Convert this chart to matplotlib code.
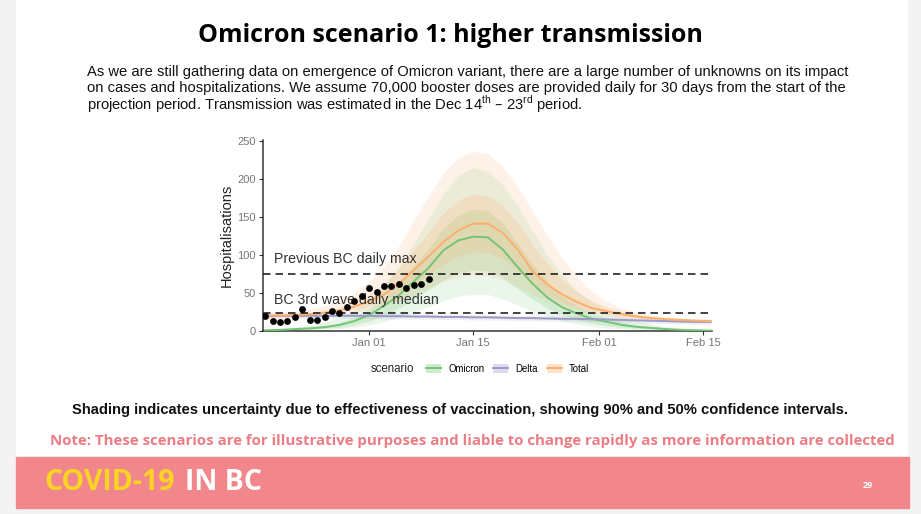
import numpy as np
import pandas as pd
import matplotlib
matplotlib.use("Agg")
import matplotlib.pyplot as plt
import matplotlib.dates as mdates
from matplotlib.patches import Rectangle, Patch
from matplotlib.lines import Line2D

# ── Data ──────────────────────────────────────────────────────
model_dates = pd.date_range("2021-12-18", periods=31, freq="2D")

omicron_med = [1, 1.5, 2.5, 3.5, 5, 8, 13, 21, 33, 47, 65, 83, 106, 119, 124, 123,
               107, 84, 62, 44, 31, 23, 16, 12, 8, 5.5, 4, 2.5, 1.5, 1, 0.5]
omicron_lo90 = [0, 0.5, 1, 1.5, 2, 3, 5, 8, 12, 18, 25, 32, 40, 46, 48, 48,
                42, 34, 26, 19, 13, 9, 6, 4, 3, 2, 1.5, 1, 0.5, 0.3, 0.2]
omicron_hi90 = [2, 3, 5, 8, 12, 18, 27, 40, 60, 85, 115, 148, 180, 205, 215, 210,
                192, 165, 132, 100, 74, 53, 38, 27, 19, 13, 9, 6, 4, 3, 2]
omicron_lo50 = [0.5, 1, 1.5, 2.5, 3.5, 5, 8, 13, 20, 30, 42, 54, 67, 76, 80, 79,
                70, 56, 42, 30, 21, 15, 10, 7, 5, 3.5, 2.5, 1.5, 1, 0.6, 0.3]
omicron_hi50 = [1.5, 2, 3.5, 5, 7, 11, 18, 28, 44, 62, 85, 108, 135, 152, 160, 158,
                142, 115, 88, 65, 46, 33, 24, 17, 12, 8, 6, 4, 2.5, 1.5, 1]

delta_med = [20, 20, 20, 20, 20, 20, 20, 20, 19.5, 19.5, 19, 19, 18.5, 18.5, 18, 18,
             17.5, 17, 17, 16.5, 16, 16, 15.5, 15, 14.5, 14, 13.5, 13, 12.5, 12, 12]
delta_lo90 = [17, 17, 17, 17, 17, 17, 16.5, 16.5, 16, 16, 15.5, 15.5, 15, 15, 14.5, 14.5,
              14, 13.5, 13.5, 13, 12.5, 12.5, 12, 11.5, 11, 10.5, 10, 10, 9.5, 9, 9]
delta_hi90 = [23, 23, 23, 23, 23, 23, 23, 23, 23, 23, 22.5, 22.5, 22, 22, 21.5, 21.5,
              21, 20.5, 20.5, 20, 19.5, 19.5, 19, 18.5, 18, 17.5, 17, 16.5, 16, 15.5, 15.5]
delta_lo50 = [19, 19, 19, 19, 19, 19, 19, 19, 18.5, 18.5, 18, 18, 17.5, 17.5, 17, 17,
              16.5, 16, 16, 15.5, 15, 15, 14.5, 14, 13.5, 13, 12.5, 12, 11.5, 11, 11]
delta_hi50 = [21, 21, 21, 21, 21, 21, 21, 21, 20.5, 20.5, 20, 20, 19.5, 19.5, 19, 19,
              18.5, 18, 18, 17.5, 17, 17, 16.5, 16, 15.5, 15, 14.5, 14, 13.5, 13, 13]

total_med = [20, 20.5, 21, 22, 24, 27, 32, 39, 48, 62, 80, 98, 117, 132, 141, 141,
             129, 107, 79, 61, 48, 38, 30, 26, 22, 19, 17, 15.5, 14.5, 13.5, 13]
total_lo90 = [17, 17, 17.5, 18, 19, 21, 24, 28, 33, 40, 48, 57, 65, 71, 74, 73,
              67, 58, 48, 39, 32, 27, 23, 20, 17, 15, 13.5, 12.5, 11.5, 11, 10.5]
total_hi90 = [23, 24, 26, 29, 33, 40, 50, 65, 85, 112, 145, 178, 208, 228, 236, 233,
              216, 190, 158, 126, 96, 71, 52, 39, 30, 25, 21, 19, 17, 16, 15.5]
total_lo50 = [18.5, 19, 19.5, 20, 21.5, 24, 28, 33, 40, 50, 62, 75, 88, 98, 104, 103,
              95, 80, 62, 48, 38, 31, 25, 22, 19, 17, 15, 14, 13, 12.5, 12]
total_hi50 = [21.5, 22, 23, 24.5, 27, 31, 38, 48, 62, 82, 106, 130, 155, 172, 180, 178,
              165, 142, 114, 88, 67, 51, 40, 32, 26, 22, 19, 17, 16, 15, 14.5]

obs_dates = pd.date_range("2021-12-18", "2022-01-09", freq="D")
obs_hosp = [20, 13, 12, 13, 19, 29, 15, 14, 18, 26, 24, 31, 40, 46, 56, 51,
            59, 59, 62, 57, 61, 62, 68]

prev_max = 75
third_wave_median = 23

tick_dates = pd.to_datetime(["2022-01-01", "2022-01-15", "2022-02-01", "2022-02-15"])

colours = {"Omicron": "#74c476", "Delta": "#9e9ac8", "Total": "#fdae6b"}

# ── Slide canvas ──────────────────────────────────────────────
W, H = 921, 514
fig = plt.figure(figsize=(W / 100, H / 100), dpi=100, facecolor="#f3f3f3")


def fx(px):
    return px / W


def fy(py):
    return 1 - py / H


fig.patches.append(Rectangle((fx(16), fy(508)), fx(907) - fx(16), fy(0) - fy(508),
                             transform=fig.transFigure, color="white", zorder=-2))
fig.patches.append(Rectangle((fx(16), fy(508)), fx(909) - fx(16), fy(457) - fy(508),
                             transform=fig.transFigure, color="#f1868b", zorder=-1))

fig.text(fx(450), fy(36), "Omicron scenario 1: higher transmission",
         ha="center", va="center", fontsize=18, fontweight="bold",
         family=["Open Sans", "DejaVu Sans"], color="black")

body = ["As we are still gathering data on emergence of Omicron variant, there are a large number of unknowns on its impact",
        "on cases and hospitalizations. We assume 70,000 booster doses are provided daily for 30 days from the start of the",
        "projection period. Transmission was estimated in the Dec 14$^{\\mathregular{th}}$ \u2013 23$^{\\mathregular{rd}}$ period."]
for i, line in enumerate(body):
    fig.text(fx(87), fy(72 + 16 * i), line, ha="left", va="center", fontsize=10.6,
             family=["Liberation Sans", "DejaVu Sans"], color="#111111")

fig.text(fx(460), fy(410),
         "Shading indicates uncertainty due to effectiveness of vaccination, showing 90% and 50% confidence intervals.",
         ha="center", va="center", fontsize=10.6, fontweight="bold",
         family=["Liberation Sans", "DejaVu Sans"], color="#111111")

fig.text(fx(472), fy(441),
         "Note: These scenarios are for illustrative purposes and liable to change rapidly as more information are collected",
         ha="center", va="center", fontsize=10.8, fontweight="bold",
         family=["Open Sans", "DejaVu Sans"], color="#ec7d85")

fig.text(fx(44), fy(482), "COVID-19", ha="left", va="center", fontsize=20.5,
         fontweight="bold", family=["Open Sans", "DejaVu Sans"], color="#f9d423")
fig.text(fx(185), fy(482), "IN BC", ha="left", va="center", fontsize=20.5,
         fontweight="bold", family=["Open Sans", "DejaVu Sans"], color="white")
fig.text(fx(868), fy(485), "29", ha="center", va="center", fontsize=6.5,
         fontweight="bold", family=["Open Sans", "DejaVu Sans"], color="white")

# ── Chart ─────────────────────────────────────────────────────
ax = fig.add_axes([fx(263), fy(331), fx(712) - fx(263), fy(140) - fy(331)])
ax.set_facecolor("white")

bands = [("Omicron", omicron_lo90, omicron_hi90, omicron_lo50, omicron_hi50, omicron_med),
         ("Delta", delta_lo90, delta_hi90, delta_lo50, delta_hi50, delta_med),
         ("Total", total_lo90, total_hi90, total_lo50, total_hi50, total_med)]

for name, lo90, hi90, lo50, hi50, med in bands:
    c = colours[name]
    ax.fill_between(model_dates, lo90, hi90, color=c, alpha=0.15, lw=0)
    ax.fill_between(model_dates, lo50, hi50, color=c, alpha=0.2, lw=0)

for name, lo90, hi90, lo50, hi50, med in bands:
    ax.plot(model_dates, med, color=colours[name], lw=1.4, zorder=3)

for level in (prev_max, third_wave_median):
    ax.axhline(level, color="#222222", lw=1.2, ls=(0, (4.5, 3)), zorder=4)

ax.text(pd.Timestamp("2021-12-19 03:00"), 95, "Previous BC daily max", fontsize=10.2,
        color="#333333", va="center", ha="left", zorder=5,
        family=["Liberation Sans", "DejaVu Sans"])
ax.text(pd.Timestamp("2021-12-19 03:00"), 41, "BC 3rd wave daily median", fontsize=10.2,
        color="#333333", va="center", ha="left", zorder=5,
        family=["Liberation Sans", "DejaVu Sans"])

ax.scatter(obs_dates, obs_hosp, s=24, color="black", zorder=6, lw=0)

ax.set_xlim(pd.Timestamp("2021-12-17 17:00"), pd.Timestamp("2022-02-16 04:00"))
ax.set_ylim(0, 251)
ax.set_yticks([0, 50, 100, 150, 200, 250])
ax.set_xticks(tick_dates)
ax.xaxis.set_major_formatter(mdates.DateFormatter("%b %d"))

for s in ("top", "right"):
    ax.spines[s].set_visible(False)
for s in ("left", "bottom"):
    ax.spines[s].set_color("#333333")
    ax.spines[s].set_linewidth(1.1)
ax.tick_params(length=3, width=0.8, color="#333333", labelcolor="#777777",
               labelsize=8, pad=2)
for lab in ax.get_xticklabels() + ax.get_yticklabels():
    lab.set_family(["Liberation Sans", "DejaVu Sans"])
ax.set_ylabel("Hospitalisations", fontsize=10.5, color="#222222", labelpad=3,
              family=["Liberation Sans", "DejaVu Sans"])

# legend
fig.text(fx(371), fy(369), "scenario", ha="left", va="center", fontsize=8.3,
         color="#222222", family=["Liberation Sans", "DejaVu Sans"])
handles = [(Patch(facecolor=colours[n], alpha=0.35, lw=0),
            Line2D([], [], color=colours[n], lw=1.4)) for n in ("Omicron", "Delta", "Total")]
fig.legend(handles, ["Omicron", "Delta", "Total"], loc="center left",
           bbox_to_anchor=(fx(421), fy(369)), ncol=3, frameon=False,
           handlelength=1.55, handleheight=1.1, handletextpad=0.8,
           columnspacing=0.9, borderpad=0,
           prop={"family": ["Liberation Sans", "DejaVu Sans"], "size": 6.9})

fig.savefig("out.png", dpi=100, facecolor=fig.get_facecolor())
